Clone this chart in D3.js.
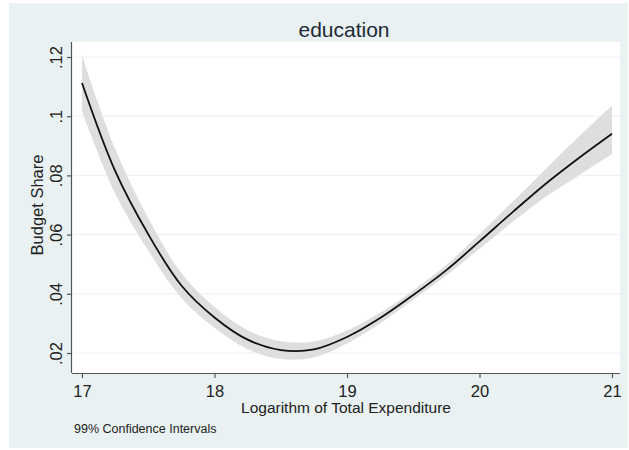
<!DOCTYPE html>
<html><head><meta charset="utf-8">
<script src="https://cdn.jsdelivr.net/npm/d3@7/dist/d3.min.js"></script>
<style>html,body{margin:0;padding:0;background:#fff;}svg{display:block;}</style>
</head><body>
<svg id="c" width="629" height="450"></svg>
<script>
const xVals = [17.0,17.25,17.5,17.75,18.0,18.25,18.5,18.75,19.0,19.25,19.5,19.75,20.0,20.25,20.5,20.75,21.0];
const fitVals = [0.1112,0.0815,0.0601,0.0428,0.0320,0.0245,0.0210,0.0212,0.0254,0.0318,0.0396,0.0480,0.0577,0.0676,0.0772,0.0859,0.0941];
const upperVals = [0.1207,0.0890,0.0656,0.0470,0.0355,0.0277,0.0240,0.0239,0.0276,0.0336,0.0412,0.0498,0.0602,0.0711,0.0822,0.0931,0.1036];
const lowerVals = [0.1017,0.0740,0.0546,0.0386,0.0285,0.0213,0.0180,0.0185,0.0232,0.0300,0.0380,0.0462,0.0552,0.0643,0.0728,0.0800,0.0872];
const xTicks = [17,18,19,20,21];
const yTicks = [0.02,0.04,0.06,0.08,0.10,0.12];
const yTickLabels = [".02",".04",".06",".08",".1",".12"];
const titleText = "education";
const xTitle = "Logarithm of Total Expenditure";
const yTitle = "Budget Share";
const noteText = "99% Confidence Intervals";

const svg = d3.select("#c");
const font = "Liberation Sans, Arial, Helvetica, sans-serif";

svg.append("rect").attr("x",9).attr("y",3).attr("width",619).attr("height",445).attr("fill","#e9f1f3");
const L=72,R=620,T=42,B=373;
svg.append("rect").attr("x",L).attr("y",T).attr("width",R-L).attr("height",B-T).attr("fill","#ffffff");

const x = d3.scaleLinear().domain([17,21]).range([82,612]);
const y = d3.scaleLinear().domain([0.02,0.12]).range([353,57]);

svg.append("g").selectAll("line").data(yTicks).join("line")
  .attr("x1",L+1).attr("x2",R).attr("y1",d=>y(d)).attr("y2",d=>y(d))
  .attr("stroke","#edf2f3").attr("stroke-width",1.2);

const data = xVals.map((v,i)=>({x:v,f:fitVals[i],u:upperVals[i],l:lowerVals[i]}));
const cv = d3.curveCatmullRom.alpha(0.5);
svg.append("path").datum(data)
  .attr("d", d3.area().x(d=>x(d.x)).y0(d=>y(d.l)).y1(d=>y(d.u)).curve(cv))
  .attr("fill","#dedede");
svg.append("path").datum(data)
  .attr("d", d3.line().x(d=>x(d.x)).y(d=>y(d.f)).curve(cv))
  .attr("fill","none").attr("stroke","#111").attr("stroke-width",1.8);

const xAxis = d3.axisBottom(x).tickValues(xTicks).tickSize(5).tickSizeOuter(0).tickFormat(d3.format("d"));
const gx = svg.append("g").attr("transform",`translate(0,${B})`).call(xAxis);
gx.select(".domain").attr("d",`M${L},0.5H${R}`).attr("stroke","#555").attr("stroke-width",1.2);
gx.selectAll(".tick line").attr("stroke","#555").attr("stroke-width",1.2);
gx.selectAll(".tick text").attr("font-family",font).attr("font-size",16.5).attr("fill","#222").attr("dy",null).attr("y",24);

const yAxis = d3.axisLeft(y).tickValues(yTicks).tickSize(5).tickSizeOuter(0).tickFormat((d,i)=>yTickLabels[i]);
const gy = svg.append("g").attr("transform",`translate(${L},0)`).call(yAxis);
gy.select(".domain").attr("d",`M-0.5,${B}V${T}`).attr("stroke","#555").attr("stroke-width",1.2);
gy.selectAll(".tick line").attr("stroke","#555").attr("stroke-width",1.2);
gy.selectAll(".tick text").attr("font-family",font).attr("font-size",16.5).attr("fill","#222")
  .attr("x",null).attr("dy",null).attr("text-anchor","middle")
  .attr("transform","translate(-10,0) rotate(-90)");

svg.append("text").attr("x",344).attr("y",37).attr("text-anchor","middle")
  .attr("font-family",font).attr("font-size",21).attr("fill","#1e2a36").text(titleText);
svg.append("text").attr("x",346).attr("y",413).attr("text-anchor","middle")
  .attr("font-family",font).attr("font-size",15.5).attr("fill","#222").text(xTitle);
svg.append("text").attr("transform","translate(43,205) rotate(-90)").attr("text-anchor","middle")
  .attr("font-family",font).attr("font-size",16.5).attr("fill","#222").text(yTitle);
svg.append("text").attr("x",74).attr("y",433)
  .attr("font-family",font).attr("font-size",12.5).attr("fill","#222").text(noteText);
</script>
</body></html>
